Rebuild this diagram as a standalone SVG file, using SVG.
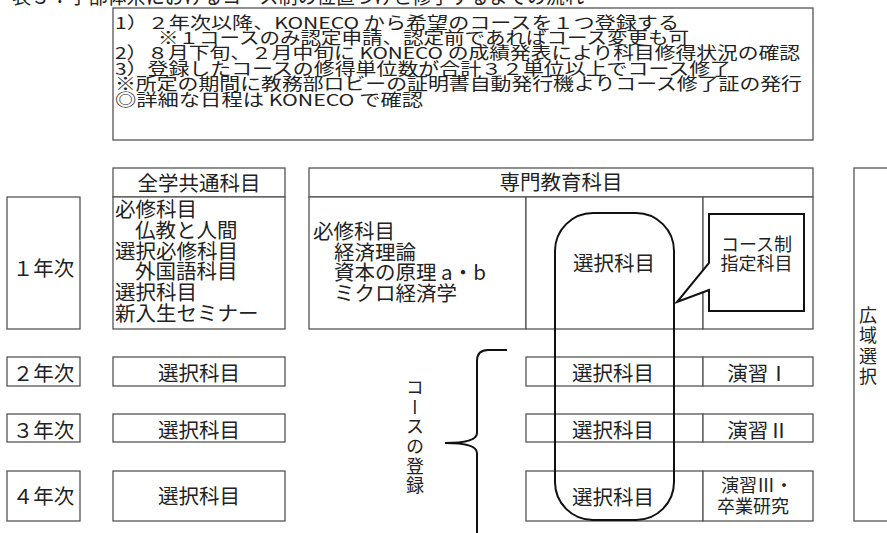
<svg xmlns="http://www.w3.org/2000/svg" width="887" height="533" viewBox="0 0 887 533">
<style>
.box{fill:#fff;stroke:#555;stroke-width:1.3}
.t{font-family:"Noto Sans CJK JP","Noto Sans CJK SC",sans-serif;fill:#222;font-size:20.5px}
.i{font-size:16.5px}
.ti{font-size:20px}
.c{text-anchor:middle}
.s{font-size:18px}
.bl{fill:none;stroke:#111;stroke-width:2}
.v{writing-mode:vertical-rl;font-size:18px}
</style>
<rect width="887" height="533" fill="#fff"/>
<g id="title">
<text class="t ti" x="12" y="4" textLength="572" lengthAdjust="spacingAndGlyphs">表３：学部体系におけるコース制の位置づけと修了するまでの流れ</text>
</g>
<g id="info">
<rect class="box" x="113" y="8" width="700" height="132"/>
<text class="t i" x="115" y="28.6" textLength="564" lengthAdjust="spacingAndGlyphs">1）２年次以降、KONECO から希望のコースを１つ登録する</text>
<text class="t i" x="158" y="44" textLength="531" lengthAdjust="spacingAndGlyphs">※１コースのみ認定申請、認定前であればコース変更も可</text>
<text class="t i" x="115" y="59.4" textLength="685" lengthAdjust="spacingAndGlyphs">2）８月下旬、２月中旬に KONECO の成績発表により科目修得状況の確認</text>
<text class="t i" x="115" y="74.8" textLength="616" lengthAdjust="spacingAndGlyphs">3）登録したコースの修得単位数が合計３２単位以上でコース修了</text>
<text class="t i" x="115" y="90.2" textLength="687" lengthAdjust="spacingAndGlyphs">※所定の期間に教務部ロビーの証明書自動発行機よりコース修了証の発行</text>
<text class="t i" x="115" y="105.6" textLength="308" lengthAdjust="spacingAndGlyphs">◎詳細な日程は KONECO で確認</text>
</g>
<g id="year1">
<rect class="box" x="7" y="197" width="73" height="132"/>
<text class="t c" x="43.5" y="275.5">１年次</text>
</g>
<g id="year2">
<rect class="box" x="7" y="357" width="73" height="29"/>
<text class="t c" x="43.5" y="380.5">２年次</text>
</g>
<g id="year3">
<rect class="box" x="7" y="414" width="73" height="28"/>
<text class="t c" x="43.5" y="437.5">３年次</text>
</g>
<g id="year4">
<rect class="box" x="7" y="471" width="73" height="50"/>
<text class="t c" x="43.5" y="504">４年次</text>
</g>
<g id="common-header">
<rect class="box" x="113" y="168" width="172" height="29"/>
<text class="t c" x="199" y="191">全学共通科目</text>
</g>
<g id="common-1">
<rect class="box" x="113" y="197" width="172" height="132"/>
<text class="t" x="115" y="217.4">必修科目</text>
<text class="t" x="135" y="238">仏教と人間</text>
<text class="t" x="115" y="258.7">選択必修科目</text>
<text class="t" x="135" y="279.4">外国語科目</text>
<text class="t" x="115" y="300">選択科目</text>
<text class="t" x="115" y="320.7">新入生セミナー</text>
</g>
<g id="common-2">
<rect class="box" x="113" y="357" width="172" height="29"/>
<text class="t c" x="199" y="380.5">選択科目</text>
</g>
<g id="common-3">
<rect class="box" x="113" y="414" width="172" height="28"/>
<text class="t c" x="199" y="437.5">選択科目</text>
</g>
<g id="common-4">
<rect class="box" x="113" y="471" width="172" height="50"/>
<text class="t c" x="199" y="504">選択科目</text>
</g>
<g id="senmon-header">
<rect class="box" x="309" y="168" width="504" height="29"/>
<text class="t c" x="561" y="189.5">専門教育科目</text>
</g>
<g id="senmon-1">
<rect class="box" x="309" y="197" width="217" height="132"/>
<rect class="box" x="526" y="197" width="177" height="132"/>
<rect class="box" x="703" y="197" width="110" height="132"/>
<text class="t" x="313" y="239">必修科目</text>
<text class="t" x="334" y="259.6">経済理論</text>
<text class="t" x="334" y="280.2">資本の原理 a・b</text>
<text class="t" x="334" y="300.7">ミクロ経済学</text>
<text class="t c" x="614" y="270.5">選択科目</text>
</g>
<g id="senmon-2">
<rect class="box" x="526" y="357" width="177" height="29"/>
<rect class="box" x="703" y="357" width="110" height="29"/>
<text class="t c" x="613" y="380.5">選択科目</text>
<text class="t c" x="758" y="380.5">演習Ⅰ</text>
</g>
<g id="senmon-3">
<rect class="box" x="526" y="414" width="177" height="28"/>
<rect class="box" x="703" y="414" width="110" height="28"/>
<text class="t c" x="613" y="437.5">選択科目</text>
<text class="t c" x="758" y="437.5">演習Ⅱ</text>
</g>
<g id="senmon-4">
<rect class="box" x="526" y="471" width="177" height="50"/>
<rect class="box" x="703" y="471" width="110" height="50"/>
<text class="t c" x="613" y="505">選択科目</text>
<text class="t c s" x="757" y="492">演習Ⅲ・</text>
<text class="t c s" x="753" y="513">卒業研究</text>
</g>
<g id="wide">
<rect class="box" x="854" y="168" width="60" height="353"/>
<text class="t v" x="868" y="306" letter-spacing="2.5">広域選択</text>
</g>
<g id="connectors">
<rect class="bl" x="555" y="213" width="119" height="307" rx="38" ry="38"/>
<path class="bl" d="M507,350 L488,350 Q477,350 477,361 V433 Q477,443 445,443 Q477,443 477,453 V533"/>
</g>
<g id="course-callout">
<path d="M709,214 H804 V311 H709 V290 L677,302 L709,263 Z" fill="#fff" stroke="#111" stroke-width="2"/>
<text class="t c s" x="756.5" y="251">コース制</text>
<text class="t c s" x="756.5" y="270">指定科目</text>
</g>
<g id="course-register">
<text class="t v" x="415" y="378" letter-spacing="1.7">コースの登録</text>
</g>
</svg>
